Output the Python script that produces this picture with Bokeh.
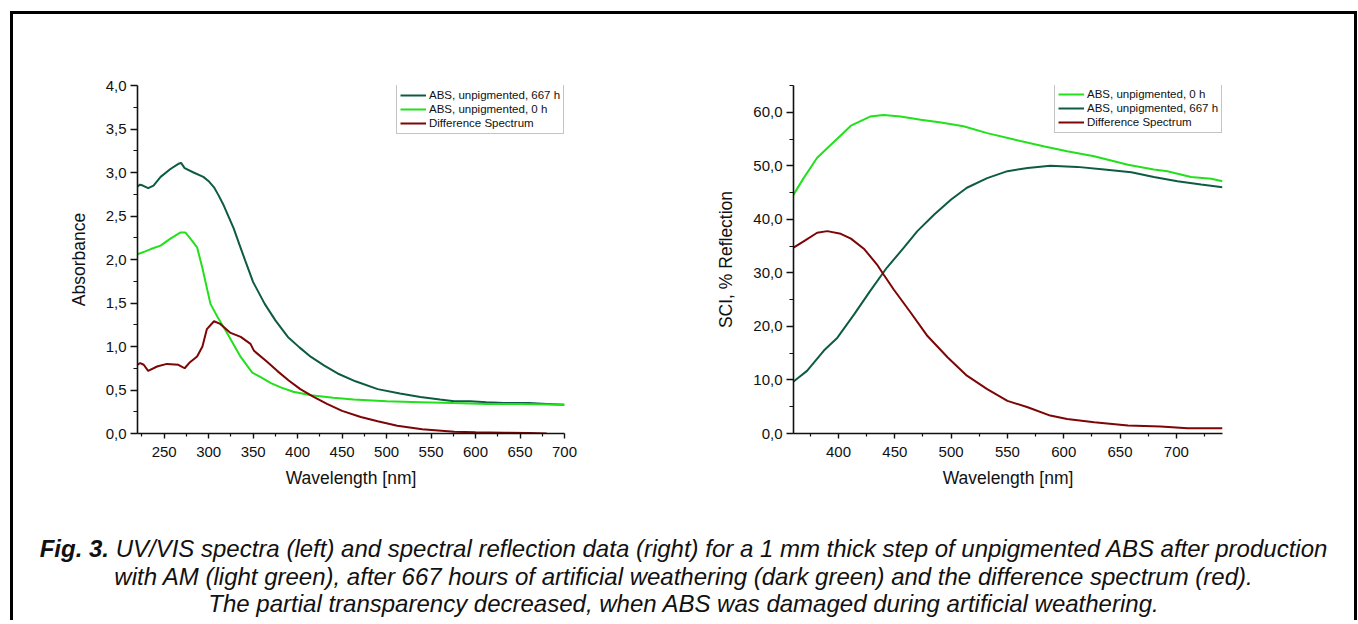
from bokeh.plotting import figure
from bokeh.layouts import column, row
from bokeh.models import (FixedTicker, CustomJSTickFormatter, Legend, LegendItem,
                          Range1d, Div)
from bokeh.embed import file_html
from bokeh.resources import INLINE

# ---------------- data: UV/VIS absorbance (left) ----------------
abs_667_wl = [220, 223, 226, 232, 238, 246, 257, 266, 269, 273, 283, 294, 300, 306, 311,
              317, 328, 335, 341, 350, 363, 375, 389, 402, 415, 430, 445, 465, 490, 515,
              538, 560, 576, 594, 612, 632, 660, 680, 700]
abs_667 = [2.84, 2.86, 2.85, 2.82, 2.85, 2.95, 3.04, 3.10, 3.11, 3.05, 3.00, 2.95, 2.90,
           2.83, 2.74, 2.62, 2.36, 2.16, 1.99, 1.74, 1.49, 1.30, 1.11, 0.99, 0.88, 0.78,
           0.69, 0.60, 0.51, 0.46, 0.42, 0.39, 0.37, 0.37, 0.36, 0.35, 0.35, 0.34, 0.33]

abs_0_wl = [220, 228, 235, 246, 257, 268, 274, 281, 287, 293, 302, 310, 321, 336, 349,
            358, 370, 381, 395, 415, 440, 463, 500, 538, 575, 613, 650, 700]
abs_0 = [2.06, 2.09, 2.12, 2.16, 2.24, 2.31, 2.31, 2.22, 2.14, 1.90, 1.49, 1.34, 1.15,
         0.88, 0.70, 0.65, 0.58, 0.53, 0.48, 0.44, 0.41, 0.39, 0.37, 0.36, 0.35, 0.34,
         0.34, 0.33]

abs_diff_wl = [220, 223, 227, 232, 242, 253, 266, 273, 279, 287, 293, 298, 306, 313, 324,
               336, 347, 351, 365, 377, 390, 403, 418, 433, 450, 471, 490, 512, 540, 576,
               600, 632, 660, 680]
abs_diff = [0.79, 0.81, 0.79, 0.72, 0.77, 0.80, 0.79, 0.75, 0.82, 0.885, 1.00, 1.20, 1.29,
            1.26, 1.16, 1.11, 1.03, 0.95, 0.83, 0.72, 0.61, 0.51, 0.42, 0.34, 0.26, 0.19,
            0.14, 0.09, 0.05, 0.02, 0.015, 0.01, 0.005, 0.0]

# ---------------- data: reflection (right) ----------------
ref_0_wl = [360, 369, 381, 393, 411, 428, 440, 455, 473, 491, 511, 532, 556, 583, 603,
            627, 657, 680, 692, 713, 731, 741]
ref_0 = [44.6, 47.7, 51.5, 53.9, 57.5, 59.2, 59.5, 59.2, 58.6, 58.1, 57.4, 56.1, 54.9,
         53.6, 52.7, 51.8, 50.2, 49.3, 49.0, 47.9, 47.6, 47.1]

ref_667_wl = [360, 372, 387, 399, 414, 428, 443, 458, 470, 485, 500, 514, 532, 550, 568,
              588, 612, 636, 660, 680, 701, 722, 741]
ref_667 = [9.7, 11.7, 15.5, 17.9, 22.3, 26.6, 31.0, 34.7, 37.8, 40.9, 43.7, 45.9, 47.7,
           49.0, 49.6, 50.0, 49.8, 49.3, 48.8, 47.9, 47.1, 46.5, 46.0]

ref_diff_wl = [360, 369, 381, 390, 402, 411, 423, 434, 440, 449, 464, 479, 497, 514, 532,
               550, 568, 588, 603, 627, 657, 686, 710, 741]
ref_diff = [34.7, 35.9, 37.5, 37.8, 37.3, 36.4, 34.4, 31.6, 29.7, 26.9, 22.6, 18.2, 14.2,
            10.8, 8.3, 6.1, 4.9, 3.35, 2.7, 2.1, 1.5, 1.3, 1.0, 1.0]

# ticks
left_x_major = [250, 300, 350, 400, 450, 500, 550, 600, 650, 700]
left_x_minor = [225, 275, 325, 375, 425, 475, 525, 575, 625, 675]
left_y_major = [0.0, 0.5, 1.0, 1.5, 2.0, 2.5, 3.0, 3.5, 4.0]
left_y_minor = [0.25, 0.75, 1.25, 1.75, 2.25, 2.75, 3.25, 3.75]
right_x_major = [400, 450, 500, 550, 600, 650, 700]
right_x_minor = [375, 425, 475, 525, 575, 625, 675, 725]
right_y_major = [0, 10, 20, 30, 40, 50, 60]
right_y_minor = [5, 15, 25, 35, 45, 55, 65]

label_667 = "ABS, unpigmented, 667 h"
label_0 = "ABS, unpigmented, 0 h"
label_diff = "Difference Spectrum"

caption_bold = "Fig. 3."
caption_lines = [
    "UV/VIS spectra (left) and spectral reflection data (right) for a 1 mm thick step of unpigmented ABS after production",
    "with AM (light green), after 667 hours of artificial weathering (dark green) and the difference spectrum (red).",
    "The partial transparency decreased, when ABS was damaged during artificial weathering.",
]

DARK = "#0d5c42"
LIGHT = "#22e01c"
RED = "#7d0505"
FONT = "Liberation Sans"


def style_axes(p, xmaj, xmin, ymaj, ymin, xlabel, ylabel, ystandoff):
    p.xaxis.ticker = FixedTicker(ticks=xmaj, minor_ticks=xmin)
    p.yaxis.ticker = FixedTicker(ticks=ymaj, minor_ticks=ymin)
    p.yaxis.formatter = CustomJSTickFormatter(code="return tick.toFixed(1).replace('.', ',');")
    p.xaxis.axis_label = xlabel
    p.yaxis.axis_label = ylabel
    for ax in (p.xaxis, p.yaxis):
        ax.axis_line_width = 1.6
        ax.axis_line_color = "#111111"
        ax.major_tick_line_color = "#111111"
        ax.minor_tick_line_color = "#111111"
        ax.major_tick_line_width = 1.4
        ax.minor_tick_line_width = 1.2
        ax.major_tick_in = 0
        ax.minor_tick_in = 0
        ax.major_label_text_font = FONT
        ax.major_label_text_font_size = "15px"
        ax.major_label_text_color = "#111111"
        ax.axis_label_text_font = FONT
        ax.axis_label_text_font_size = "17.5px"
        ax.axis_label_text_font_style = "normal"
        ax.axis_label_text_color = "#111111"
    p.xaxis.major_tick_out = 5
    p.xaxis.minor_tick_out = 3
    p.xaxis.major_label_standoff = 8
    p.xaxis.axis_label_standoff = 8
    p.yaxis.major_tick_out = 7
    p.yaxis.minor_tick_out = 4
    p.yaxis.major_label_standoff = 4
    p.yaxis.axis_label_standoff = ystandoff
    p.xgrid.visible = False
    p.ygrid.visible = False
    p.outline_line_color = None


# ---------------- left figure ----------------
pl = figure(frame_width=427, frame_height=348, min_border_left=124, min_border_right=116,
            min_border_top=71, min_border_bottom=67,
            x_range=Range1d(220, 700), y_range=Range1d(0, 4),
            output_backend="svg", toolbar_location=None)
r1 = pl.line(abs_667_wl, abs_667, line_color=DARK, line_width=2)
r2 = pl.line(abs_0_wl, abs_0, line_color=LIGHT, line_width=2)
r3 = pl.line(abs_diff_wl, abs_diff, line_color=RED, line_width=2)
style_axes(pl, left_x_major, left_x_minor, left_y_major, left_y_minor,
           "Wavelength [nm]", "Absorbance", 14)
leg_l = Legend(items=[LegendItem(label=label_667, renderers=[r1]),
                      LegendItem(label=label_0, renderers=[r2]),
                      LegendItem(label=label_diff, renderers=[r3])],
               location=(259, 299))
pl.add_layout(leg_l, "center")

# ---------------- right figure ----------------
pr = figure(frame_width=429, frame_height=348, min_border_left=113, min_border_right=119,
            min_border_top=71, min_border_bottom=67,
            x_range=Range1d(360, 741), y_range=Range1d(0, 65),
            output_backend="svg", toolbar_location=None)
s1 = pr.line(ref_0_wl, ref_0, line_color=LIGHT, line_width=2)
s2 = pr.line(ref_667_wl, ref_667, line_color=DARK, line_width=2)
s3 = pr.line(ref_diff_wl, ref_diff, line_color=RED, line_width=2)
style_axes(pr, right_x_major, right_x_minor, right_y_major, right_y_minor,
           "Wavelength [nm]", "SCI, % Reflection", 14)
leg_r = Legend(items=[LegendItem(label=label_0, renderers=[s1]),
                      LegendItem(label=label_667, renderers=[s2]),
                      LegendItem(label=label_diff, renderers=[s3])],
               location=(261, 300))
pr.add_layout(leg_r, "center")

for leg in (leg_l, leg_r):
    leg.label_text_font = FONT
    leg.label_text_font_size = "11.5px"
    leg.label_text_color = "#111111"
    leg.glyph_width = 26
    leg.glyph_height = 14
    leg.label_height = 14
    leg.label_standoff = 3
    leg.spacing = 0
    leg.padding = 3
    leg.margin = 0
    leg.border_line_color = "#8a8a8a"
    leg.border_line_width = 1
    leg.background_fill_alpha = 1.0

# ---------------- caption ----------------
cap_html = (
    '<div style="width:1331px;text-align:center;font-family:\'Liberation Sans\',Arial,sans-serif;'
    'font-size:24px;font-style:italic;line-height:27.5px;color:#111;padding-top:30px;white-space:nowrap;">'
    '<b>' + caption_bold + '</b> ' + caption_lines[0] + '<br>'
    + caption_lines[1] + '<br>' + caption_lines[2] + '</div>'
)
cap = Div(text=cap_html, width=1331, height=110)

layout = column(
    row(pl, pr),
    cap,
    styles={"border-top": "3px solid black", "border-left": "3px solid black",
            "border-right": "3px solid black", "margin-left": "10px", "margin-top": "11px"},
)

open("out.html", "w").write(file_html(layout, INLINE))
